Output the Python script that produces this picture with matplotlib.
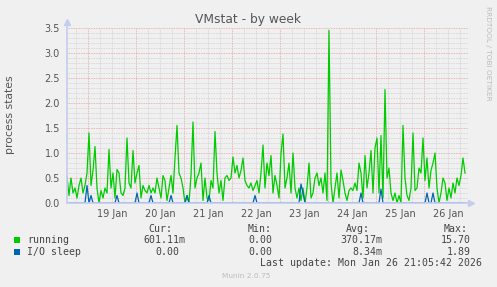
import matplotlib
matplotlib.use("Agg")
import matplotlib.pyplot as plt
import matplotlib.dates as mdates
from matplotlib.patches import Rectangle
from matplotlib.ticker import MultipleLocator, FuncFormatter
from datetime import datetime, timedelta

# ---- data (hourly samples, starting 18 Jan 13:30) ----
start = datetime(2026, 1, 18, 13, 30)
running = [
    0.53, 0.15, 0.50, 0.20, 0.30, 0.10, 0.35, 0.50, 0.20, 0.35,
    0.60, 1.40, 0.35, 0.65, 1.13, 0.30, 0.00, 0.25, 0.10, 0.30,
    0.20, 1.07, 0.30, 0.60, 0.10, 0.67, 0.60, 0.20, 0.15, 0.30,
    1.30, 0.40, 0.30, 1.05, 0.40, 0.60, 0.75, 0.10, 0.35, 0.25,
    0.20, 0.35, 0.20, 0.30, 0.20, 0.50, 0.30, 0.10, 0.55, 0.45,
    0.05, 0.30, 0.55, 0.20, 0.90, 1.55, 0.60, 0.50, 0.30, 0.00,
    0.15, 0.00, 0.55, 1.62, 0.30, 0.50, 0.60, 0.80, 0.05, 0.50,
    0.10, 0.05, 0.45, 0.30, 1.43, 0.60, 0.20, 0.45, 0.05, 0.50,
    0.55, 0.45, 0.50, 0.92, 0.60, 0.75, 0.50, 0.65, 0.90, 0.45,
    0.35, 0.30, 0.40, 0.25, 0.35, 0.45, 0.20, 0.60, 1.16, 0.30,
    0.80, 0.55, 0.95, 0.20, 0.55, 0.35, 0.10, 1.00, 1.38, 0.30,
    0.50, 0.80, 0.20, 1.00, 0.30, 0.10, 0.30, 0.05, 0.30, 0.00,
    0.30, 0.80, 0.10, 0.20, 0.50, 0.60, 0.35, 0.50, 0.20, 0.60,
    0.05, 3.45, 0.40, 0.00, 0.30, 0.60, 0.10, 0.66, 0.45, 0.20,
    0.05, 0.25, 0.30, 0.25, 0.40, 0.25, 0.80, 0.60, 0.10, 0.95,
    0.30, 0.60, 1.05, 0.20, 1.10, 1.30, 0.20, 1.35, 0.10, 2.27,
    0.50, 0.70, 0.20, 0.05, 0.20, 0.00, 0.15, 0.00, 1.55, 0.50,
    0.15, 0.05, 0.30, 1.40, 0.25, 0.30, 0.70, 0.60, 1.30, 0.45,
    0.90, 0.30, 0.65, 0.80, 1.00, 0.30, 0.00, 0.20, 0.50, 0.40,
    0.05, 0.30, 0.10, 0.40, 0.20, 0.50, 0.35, 0.55, 0.90, 0.60,
]
io_sleep = [0.0] * len(running)
io_spikes = {10: 0.35, 12: 0.15, 25: 0.15, 35: 0.20, 42: 0.15, 52: 0.15,
             60: 0.15, 71: 0.15, 94: 0.15, 117: 0.38, 118: 0.20,
             147: 0.20, 157: 0.28, 180: 0.20, 183: 0.20}
for k, v in io_spikes.items():
    io_sleep[k] = v
times = [start + timedelta(hours=i) for i in range(len(running))]
end = datetime(2026, 1, 26, 22, 0)

title = "VMstat - by week"
ylabel = "process states"
legend_rows = [
    ("running", "#00cc00", "601.11m", "0.00", "370.17m", "15.70"),
    ("I/O sleep", "#0066b3", "0.00", "0.00", "8.34m", "1.89"),
]
last_update = "Last update: Mon Jan 26 21:05:42 2026"

# ---- figure ----
W, H = 497, 287
bg = "#f0f0f0"
fig = plt.figure(figsize=(W / 100, H / 100), dpi=100, facecolor=bg)
ax = fig.add_axes([67 / W, 1 - 203 / H, (468 - 67) / W, (203 - 28) / H])
ax.set_facecolor(bg)

ax.plot(times, running, color="#00cc00", lw=0.9, zorder=3)
ax.plot(times, io_sleep, color="#0066b3", lw=0.9, zorder=4)

ax.set_xlim(start, end)
ax.set_ylim(0, 3.5)

# grid
ax.xaxis.set_major_locator(mdates.DayLocator())
ax.xaxis.set_major_formatter(FuncFormatter(lambda x, p: ""))
ax.xaxis.set_minor_locator(mdates.HourLocator(byhour=[6, 12, 18]))
def minor_fmt(x, p):
    d = mdates.num2date(x)
    return d.strftime("%d %b") if d.hour == 12 else ""
ax.xaxis.set_minor_formatter(FuncFormatter(minor_fmt))
ax.yaxis.set_major_locator(MultipleLocator(0.5))
ax.yaxis.set_minor_locator(MultipleLocator(0.1))
ax.yaxis.set_major_formatter(FuncFormatter(lambda v, p: f"{v:.1f}"))

ax.grid(which="minor", color="#d0d0d0", lw=0.6, ls=(0, (1, 1)), zorder=1)
ax.grid(which="major", color="#e8a0a0", lw=0.6, ls=(0, (1, 1)), zorder=2)
ax.set_axisbelow(True)

ax.tick_params(which="both", length=0, colors="#555555", labelsize=7)
ax.tick_params(axis="y", pad=5)
ax.tick_params(axis="x", which="minor", pad=4)

for s in ("top", "right"):
    ax.spines[s].set_visible(False)
axis_col = "#c4ccf0"
for s in ("left", "bottom"):
    ax.spines[s].set_color(axis_col)
    ax.spines[s].set_linewidth(1.2)
    ax.spines[s].set_zorder(6)
ax.spines["left"].set_bounds(0, 3.62)
ax.spines["bottom"].set_bounds(mdates.date2num(start), mdates.date2num(end + timedelta(hours=2)))
ax.plot([1.008], [0], marker=">", ms=5, color=axis_col, transform=ax.transAxes, clip_on=False, zorder=6)
ax.plot([0], [1.035], marker="^", ms=5, color=axis_col, transform=ax.transAxes, clip_on=False, zorder=6)

# texts
fig.text(248 / W, 1 - 19 / H, title, ha="center", va="center", fontsize=8.8, color="#555555")
fig.text(10 / W, 1 - 115 / H, ylabel, ha="center", va="center", rotation=90, fontsize=7.8, color="#555555")
fig.text(488 / W, 1 - 53 / H, "RRDTOOL / TOBI OETIKER", ha="center", va="center",
         rotation=270, fontsize=5.3, color="#bcbcbc")
fig.text(246 / W, 1 - 276 / H, "Munin 2.0.75", ha="center", va="center", fontsize=5.3, color="#bcbcbc")

mono = "DejaVu Sans Mono"
lc = "#444444"
fs = 7.1
for txt, xr in zip(["Cur:", "Min:", "Avg:", "Max:"], [172, 272, 370, 468]):
    fig.text(xr / W, 1 - 229 / H, txt, ha="right", va="center", family=mono, fontsize=fs, color=lc)
col_x = [185, 278, 382, 477]
for r, (name, col, *vals) in enumerate(legend_rows):
    y = 240 + 12 * r
    fig.add_artist(Rectangle((14 / W, 1 - (y + 2.5) / H), 5.5 / W, 5.5 / H,
                             transform=fig.transFigure, color=col, lw=0))
    fig.text(27 / W, 1 - y / H, name, ha="left", va="center", family=mono, fontsize=fs, color=lc)
    for v, xr in zip(vals, col_x):
        if v.endswith("m"):
            fig.text(xr / W, 1 - y / H, v, ha="right", va="center", family=mono, fontsize=fs, color=lc)
        else:
            fig.text((xr - 6) / W, 1 - y / H, v, ha="right", va="center", family=mono, fontsize=fs, color=lc)
fig.text(482 / W, 1 - 263 / H, last_update, ha="right", va="center", family=mono, fontsize=fs, color=lc)

fig.savefig("out.png", dpi=100, facecolor=bg)
